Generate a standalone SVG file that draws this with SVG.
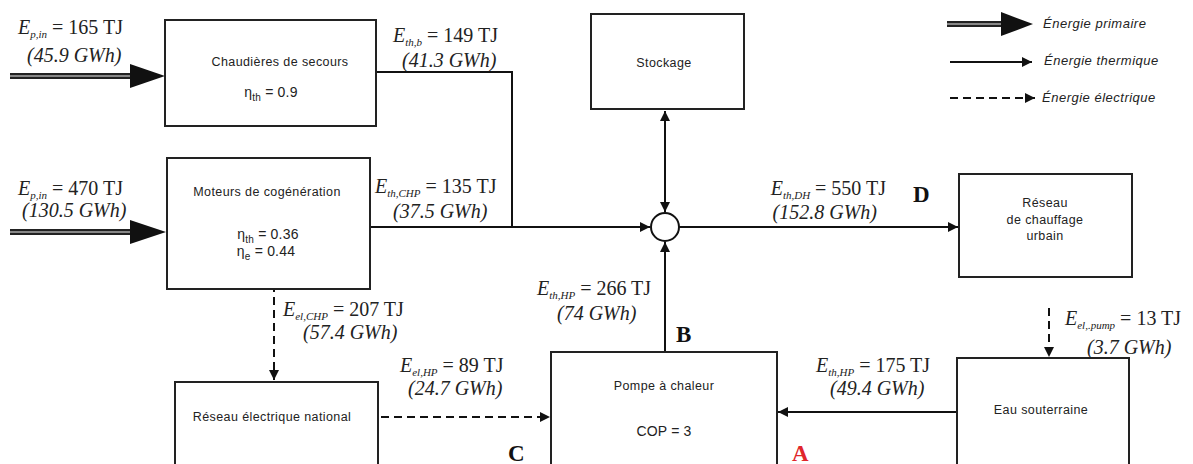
<svg xmlns="http://www.w3.org/2000/svg" width="1193" height="464" viewBox="0 0 1193 464">
<style>
.box{fill:#fff;stroke:#222;stroke-width:2}
.ln{fill:none;stroke:#111;stroke-width:2}
.el{fill:none;stroke:#111;stroke-width:2;stroke-dasharray:8 5}
.pri{fill:none;stroke:#222;stroke-width:6}
.pric{fill:none;stroke:#aaa;stroke-width:1.5}
.lab{font-family:"Liberation Serif",serif;font-size:20px;fill:#222}
.it{font-style:italic}
.sub{font-size:11px;font-style:italic}
.nt{font-family:"Liberation Sans",Arial,sans-serif;font-size:12.5px;letter-spacing:0.4px;fill:#222;text-anchor:middle}
.eta{font-size:14px;letter-spacing:0.2px}
.lg{font-family:"Liberation Sans",Arial,sans-serif;font-size:13px;letter-spacing:0.5px;font-style:italic;fill:#222}
.big{font-family:"Liberation Serif",serif;font-size:23px;font-weight:bold;fill:#111}
</style>
<defs>
<marker id="ah" viewBox="0 0 10 10" refX="10" refY="5" markerWidth="5" markerHeight="5" orient="auto-start-reverse" markerUnits="strokeWidth">
<path d="M0,0 L10,5 L0,10 z" fill="#111"/>
</marker>
</defs>

<g id="connectors">
<line class="pri" x1="10" y1="76" x2="132" y2="76"/>
<line class="pric" x1="10" y1="76" x2="132" y2="76"/>
<polygon points="130,64 165,76 130,88" fill="#111"/>
<line class="pri" x1="10" y1="232" x2="132" y2="232"/>
<line class="pric" x1="10" y1="232" x2="132" y2="232"/>
<polygon points="130,220 166,232 130,244" fill="#111"/>
<path class="ln" d="M376,72 H512 V227"/>
<path class="ln" d="M370,227 H650" marker-end="url(#ah)"/>
<path class="ln" d="M665,111 V212" marker-start="url(#ah)" marker-end="url(#ah)"/>
<path class="ln" d="M679,227 H958" marker-end="url(#ah)"/>
<path class="ln" d="M665,352 V242" marker-end="url(#ah)"/>
<path class="ln" d="M957,412 H778" marker-end="url(#ah)"/>
<path class="el" d="M274,258 V380" marker-end="url(#ah)"/>
<path class="el" d="M381,417 H550" marker-end="url(#ah)"/>
<path class="el" d="M1049,308 V357" stroke-width="1.5" marker-end="url(#ah)"/>
<circle cx="665" cy="227" r="14" fill="#fff" stroke="#111" stroke-width="2"/>
</g>

<g id="chaudieres">
<rect class="box" x="165" y="20" width="211" height="106"/>
<text class="nt" x="280" y="66">Chaudières de secours</text>
<text class="nt eta" x="271" y="97">η<tspan font-size="10" dy="4">th</tspan><tspan dy="-4"> = 0.9</tspan></text>
</g>

<g id="moteurs">
<rect class="box" x="167" y="158" width="203" height="131"/>
<text class="nt" x="267" y="196">Moteurs de cogénération</text>
<text class="nt eta" x="268" y="239">η<tspan font-size="10" dy="4">th</tspan><tspan dy="-4"> = 0.36</tspan></text>
<text class="nt eta" x="266" y="256">η<tspan font-size="10" dy="4">e</tspan><tspan dy="-4"> = 0.44</tspan></text>
</g>

<g id="stockage">
<rect class="box" x="591" y="14" width="153" height="95"/>
<text class="nt" x="664" y="67">Stockage</text>
</g>

<g id="reseau-chauffage">
<rect class="box" x="959" y="174" width="173" height="103"/>
<text class="nt" x="1045" y="207">Réseau</text>
<text class="nt" x="1045" y="224">de chauffage</text>
<text class="nt" x="1045" y="240">urbain</text>
</g>

<g id="reseau-electrique">
<rect class="box" x="175" y="382" width="203" height="100"/>
<text class="nt" x="272" y="421">Réseau électrique national</text>
</g>

<g id="pompe">
<rect class="box" x="551" y="352" width="226" height="130"/>
<text class="nt" x="664" y="390">Pompe à chaleur</text>
<text class="nt eta" x="664" y="436">COP = 3</text>
</g>

<g id="eau">
<rect class="box" x="957" y="358" width="172" height="130"/>
<text class="nt" x="1041" y="414">Eau souterraine</text>
</g>

<g id="labels">
<text class="lab" x="18" y="34"><tspan class="it">E</tspan><tspan class="sub" dy="4">p,in</tspan><tspan dy="-4"> = 165 TJ</tspan></text>
<text class="lab it" x="27" y="62">(45.9 GWh)</text>
<text class="lab" x="18" y="195"><tspan class="it">E</tspan><tspan class="sub" dy="4">p,in</tspan><tspan dy="-4"> = 470 TJ</tspan></text>
<text class="lab it" x="22" y="217">(130.5 GWh)</text>
<text class="lab" x="393" y="42"><tspan class="it">E</tspan><tspan class="sub" dy="4">th,b</tspan><tspan dy="-4"> = 149 TJ</tspan></text>
<text class="lab it" x="402" y="67">(41.3 GWh)</text>
<text class="lab" x="375" y="193"><tspan class="it">E</tspan><tspan class="sub" dy="4">th,CHP</tspan><tspan dy="-4"> = 135 TJ</tspan></text>
<text class="lab it" x="393" y="218">(37.5 GWh)</text>
<text class="lab" x="886" y="195" text-anchor="end"><tspan class="it">E</tspan><tspan class="sub" dy="4">th,DH</tspan><tspan dy="-4"> = 550 TJ</tspan></text>
<text class="lab it" x="877" y="219" text-anchor="end">(152.8 GWh)</text>
<text class="lab" x="537" y="295"><tspan class="it">E</tspan><tspan class="sub" dy="4">th,HP</tspan><tspan dy="-4"> = 266 TJ</tspan></text>
<text class="lab it" x="557" y="320">(74 GWh)</text>
<text class="lab" x="283" y="316"><tspan class="it">E</tspan><tspan class="sub" dy="4">el,CHP</tspan><tspan dy="-4"> = 207 TJ</tspan></text>
<text class="lab it" x="303" y="339">(57.4 GWh)</text>
<text class="lab" x="400" y="372"><tspan class="it">E</tspan><tspan class="sub" dy="4">el,HP</tspan><tspan dy="-4"> = 89 TJ</tspan></text>
<text class="lab it" x="408" y="395">(24.7 GWh)</text>
<text class="lab" x="816" y="372"><tspan class="it">E</tspan><tspan class="sub" dy="4">th,HP</tspan><tspan dy="-4"> = 175 TJ</tspan></text>
<text class="lab it" x="830" y="395">(49.4 GWh)</text>
<text class="lab" x="1065" y="325"><tspan class="it">E</tspan><tspan class="sub" dy="4">el,.pump</tspan><tspan dy="-4"> = 13 TJ</tspan></text>
<text class="lab it" x="1087" y="354">(3.7 GWh)</text>
<text class="big" x="913" y="202">D</text>
<text class="big" x="676" y="342">B</text>
<text class="big" x="508" y="461">C</text>
<text class="big" x="792" y="461" style="fill:#e0262b">A</text>
</g>

<g id="legend">
<line class="pri" x1="947" y1="24" x2="1003" y2="24"/>
<line class="pric" x1="947" y1="24" x2="1003" y2="24"/>
<polygon points="1001,12 1033,24 1001,36" fill="#111"/>
<text class="lg" x="1043" y="28">Énergie primaire</text>
<path class="ln" d="M950,62 H1032" stroke-width="1.5" marker-end="url(#ah)"/>
<text class="lg" x="1044" y="65">Énergie thermique</text>
<path class="el" d="M950,98 H1035" stroke-width="1.5" stroke-dasharray="6 4" marker-end="url(#ah)"/>
<text class="lg" x="1042" y="102">Énergie électrique</text>
</g>
</svg>
